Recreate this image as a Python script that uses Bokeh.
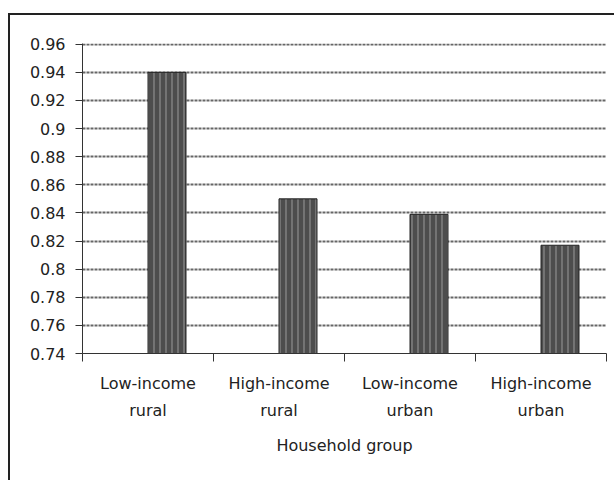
import numpy as np
from bokeh.plotting import figure
from bokeh.models import Range1d, FixedTicker, LinearAxis, Grid, InlineStyleSheet
from bokeh.embed import file_html
from bokeh.resources import INLINE

categories = ["Low-income\nrural", "High-income\nrural", "Low-income\nurban", "High-income\nurban"]
values = [0.940, 0.850, 0.839, 0.817]
y_ticks = [0.74, 0.76, 0.78, 0.80, 0.82, 0.84, 0.86, 0.88, 0.90, 0.92, 0.94, 0.96]
y_tick_labels = ["0.74", "0.76", "0.78", "0.8", "0.82", "0.84", "0.86", "0.88", "0.9", "0.92", "0.94", "0.96"]

FONT = "DejaVu Sans"
n = len(categories)
idx = np.arange(n)
bar_w = 0.29
centers = idx + 0.5
bar_x = centers + bar_w / 2

frame_css = InlineStyleSheet(css=(
    ":host { overflow: hidden; background-color: white; "
    "background-image: linear-gradient(#222, #222), linear-gradient(#222, #222); "
    "background-position: 8px 13px, 8px 13px; "
    "background-size: 2px 2000px, 2000px 2px; "
    "background-repeat: no-repeat, no-repeat; }"))

p = figure(width=614, height=480, output_backend="svg", toolbar_location=None,
           x_range=Range1d(0, n), y_range=Range1d(0.74, 0.9605),
           min_border_left=82, min_border_right=8, min_border_top=43, min_border_bottom=127,
           x_axis_type=None, y_axis_type=None,
           stylesheets=[frame_css])
p.outline_line_color = None
p.background_fill_color = None
p.border_fill_color = None

# y axis
yax = LinearAxis(ticker=FixedTicker(ticks=y_ticks, minor_ticks=[]))
yax.major_label_overrides = {t: l for t, l in zip(y_ticks, y_tick_labels)}
yax.major_label_text_font = FONT
yax.major_label_text_font_size = "16px"
yax.major_label_text_color = "#222"
yax.major_tick_out = 7
yax.major_tick_in = 0
yax.major_label_standoff = 10
yax.axis_line_color = "#333"
yax.major_tick_line_color = "#333"
p.add_layout(yax, "left")

# x axis
xax = LinearAxis(ticker=FixedTicker(ticks=list(centers), minor_ticks=list(range(n + 1))))
xax.major_label_overrides = {float(c): lab for c, lab in zip(centers, categories)}
xax.major_label_text_font = FONT
xax.major_label_text_font_size = "16px"
xax.major_label_text_color = "#222"
xax.major_label_text_line_height = 1.45
xax.major_tick_out = 0
xax.major_tick_in = 0
xax.minor_tick_out = 8
xax.minor_tick_in = 0
xax.minor_tick_line_color = "#333"
xax.major_label_standoff = 12
xax.axis_line_color = "#333"
xax.axis_label = "Household group"
xax.axis_label_text_font = FONT
xax.axis_label_text_font_size = "16px"
xax.axis_label_text_font_style = "normal"
xax.axis_label_text_color = "#222"
xax.axis_label_standoff = 13
p.add_layout(xax, "below")

grid = Grid(dimension=1, ticker=FixedTicker(ticks=y_ticks),
            grid_line_color="#666", grid_line_width=2, grid_line_dash="3 1")
p.add_layout(grid)

p.vbar(x=bar_x, top=values, bottom=0.74, width=bar_w,
       fill_color="#4d4d4d", line_color="#222", line_width=1,
       hatch_pattern="|", hatch_color="#9a9a9a", hatch_scale=6, hatch_weight=1)

open("out.html", "w").write(file_html(p, INLINE))
